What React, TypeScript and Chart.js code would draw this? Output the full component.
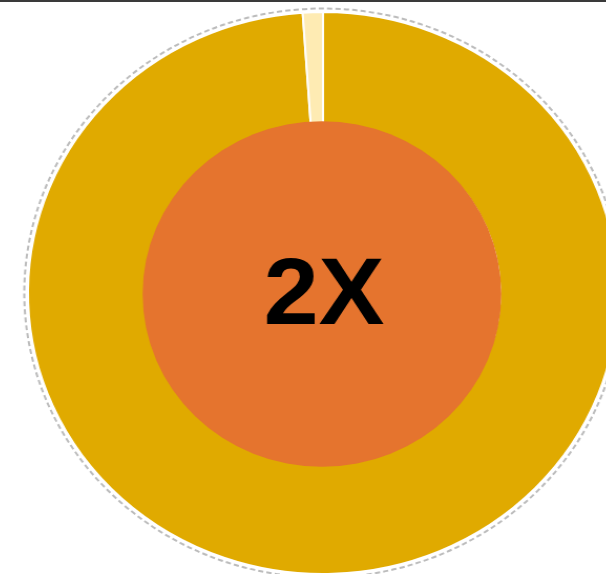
import React, { useEffect, useRef } from "react";
import { Chart, registerables } from "chart.js";

Chart.register(...registerables);

const categories = ["Main", "Remainder"];
const seriesValues = [98.9, 1.1];
const sliceColors = ["#E0AA00", "#FEEBB3"];
const centerLabel = "2X";

const centerPlugin = {
  id: "centerDecor",
  afterDatasetsDraw(chart: any) {
    const ctx = chart.ctx;
    const arc = chart.getDatasetMeta(0).data[0];
    if (!arc) return;
    const { x, y, outerRadius } = arc.getProps(["x", "y", "outerRadius"], true);
    ctx.save();
    // dashed outline ring
    ctx.beginPath();
    ctx.setLineDash([5, 3]);
    ctx.lineWidth = 2;
    ctx.strokeStyle = "#bcbcbc";
    ctx.arc(x, y, outerRadius + 3.5, 0, Math.PI * 2);
    ctx.stroke();
    ctx.setLineDash([]);
    // orange centre
    ctx.beginPath();
    ctx.fillStyle = "#E5742E";
    ctx.ellipse(x - 1, y + 1, 170.8, 172.8, 0, 0, Math.PI * 2);
    ctx.fill();
    // label
    ctx.fillStyle = "#000000";
    ctx.font = "bold 94px 'Liberation Sans', Arial, sans-serif";
    ctx.textAlign = "center";
    ctx.textBaseline = "alphabetic";
    ctx.fillText(centerLabel, x + 1, y + 31);
    ctx.restore();
  },
};

export default function App() {
  const ref = useRef<HTMLCanvasElement | null>(null);
  useEffect(() => {
    if (!ref.current) return;
    const chart = new Chart(ref.current, {
      type: "doughnut",
      data: {
        labels: categories,
        datasets: [
          {
            data: seriesValues,
            backgroundColor: sliceColors,
            borderColor: "#ffffff",
            borderWidth: 2,
            hoverBorderWidth: 2,
          },
        ],
      },
      options: {
        animation: false,
        responsive: false,
        devicePixelRatio: 1,
        cutout: "60%",
        layout: { padding: 18 },
        plugins: {
          legend: { display: false },
          tooltip: { enabled: false },
        },
      },
      plugins: [centerPlugin],
    });
    return () => chart.destroy();
  }, []);

  return (
    <div
      style={{
        position: "fixed",
        left: 0,
        top: 0,
        width: 606,
        height: 574,
        overflow: "hidden",
        background: "#ffffff",
      }}
    >
      <canvas
        ref={ref}
        width={600}
        height={600}
        style={{
          position: "absolute",
          left: 8,
          top: -7.5,
          width: 630,
          height: 600,
        }}
      />
      <div
        style={{
          position: "absolute",
          left: 0,
          top: 0,
          width: 606,
          height: 2,
          background: "#3a3a3a",
        }}
      />
    </div>
  );
}
